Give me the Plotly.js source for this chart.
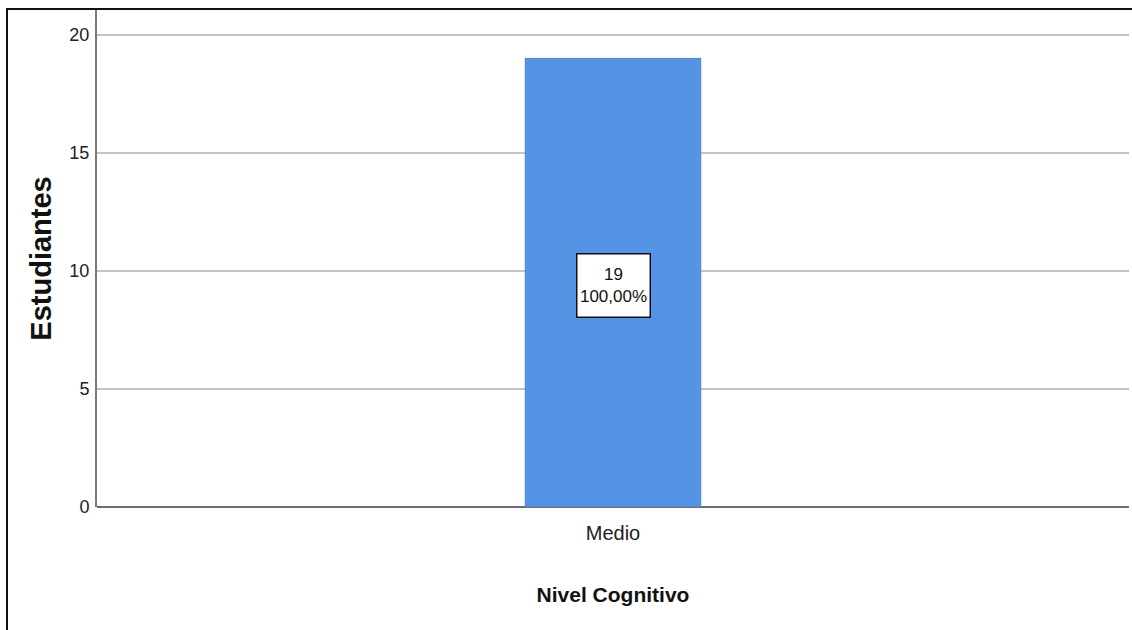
<!DOCTYPE html>
<html>
<head>
<meta charset="utf-8">
<script src="https://cdn.plot.ly/plotly-3.0.1.min.js"></script>
<style>
html,body{margin:0;padding:0;background:#fff;}
#wrap{position:relative;width:1132px;height:630px;}
#chart{position:absolute;left:0;top:0;width:1132px;height:630px;}
#frameL{position:absolute;left:6px;top:8px;width:2px;height:622px;background:#111;z-index:5;}
#frameT{position:absolute;left:6px;top:8px;width:1126px;height:2px;background:#111;z-index:5;}
</style>
</head>
<body>
<div id="wrap">
<div id="chart"></div>
<div id="frameL"></div>
<div id="frameT"></div>
</div>
<script>
const categories = ["Medio"];
const counts = [19];
const percentLabels = ["100,00%"];
const yTicks = [0, 5, 10, 15, 20];

const narrow = '"Liberation Sans Narrow", "Arial Narrow", "Liberation Sans", Arial, sans-serif';
const bold = '"Liberation Sans", Arial, sans-serif';

const trace = {
  type: 'bar',
  x: categories,
  y: counts,
  width: 0.17,
  marker: {color: '#5594e5', line: {color: '#4a82cf', width: 1}},
  hoverinfo: 'none'
};

const annotations = categories.map((c, i) => ({
  x: c, y: counts[i] / 2, xref: 'x', yref: 'y',
  yshift: -3,
  text: counts[i] + '<br>' + percentLabels[i],
  showarrow: false,
  width: 68, height: 58,
  bgcolor: '#ffffff', bordercolor: '#111', borderwidth: 1.5, borderpad: 2,
  font: {family: narrow, size: 17, color: '#111'}
}));

const layout = {
  width: 1132, height: 630,
  margin: {l: 97, r: 3, t: 10, b: 123},
  paper_bgcolor: '#fff', plot_bgcolor: '#fff',
  showlegend: false,
  bargap: 0,
  xaxis: {
    type: 'category', range: [-0.5, 0.5],
    showline: false, showgrid: false, zeroline: false, ticks: '',
    tickfont: {family: narrow, size: 20, color: '#222'},
    ticklabelstandoff: 12,
    title: {text: 'Nivel Cognitivo', font: {family: bold, size: 21, color: '#111', weight: 'bold'}, standoff: 44}
  },
  yaxis: {
    range: [0, 21.05], tickvals: yTicks, ticktext: yTicks.map(String),
    showline: true, linecolor: '#7a7a7a', linewidth: 2, mirror: false,
    showgrid: true, gridcolor: '#c4c4c4', gridwidth: 2,
    zeroline: true, zerolinecolor: '#6f6f6f', zerolinewidth: 2,
    ticks: '', ticklabelstandoff: 2,
    tickfont: {family: narrow, size: 18, color: '#222'},
    title: {text: 'Estudiantes', font: {family: bold, size: 29, color: '#111', weight: 'bold'}, standoff: 9}
  },
  annotations: annotations
};

Plotly.newPlot('chart', [trace], layout, {displayModeBar: false, staticPlot: true});
</script>
</body>
</html>
